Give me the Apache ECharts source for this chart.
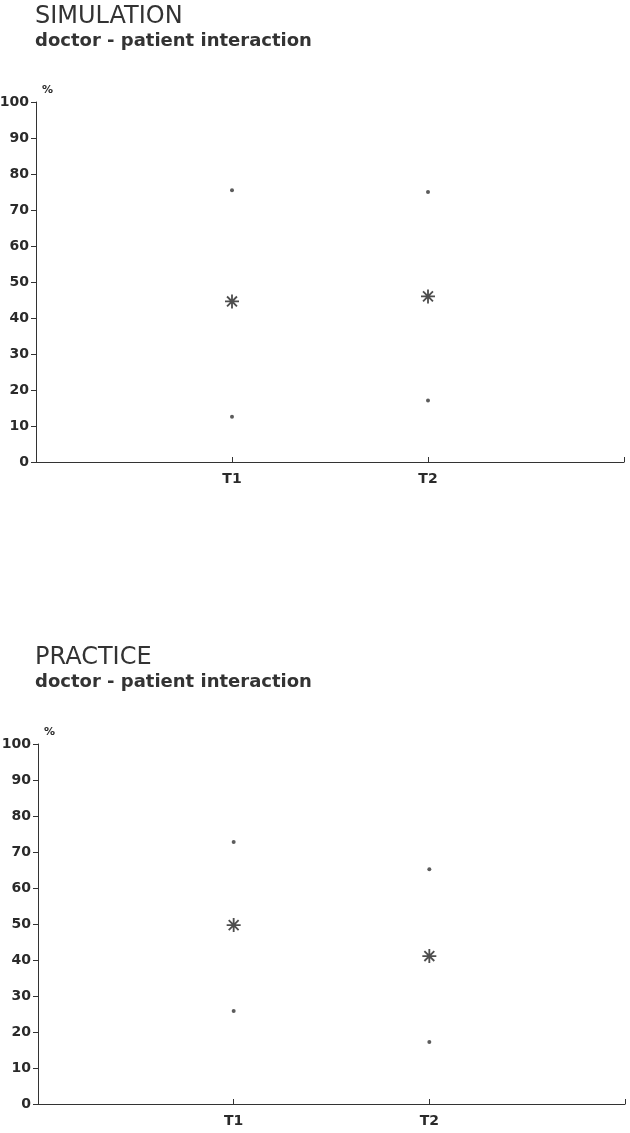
<!DOCTYPE html>
<html>
<head>
<meta charset="utf-8">
<script src="https://cdn.jsdelivr.net/npm/echarts@6/dist/echarts.min.js"></script>
<style>
  html, body { margin: 0; padding: 0; background: #fff; }
  #main { width: 630px; height: 1133px; }
</style>
</head>
<body>
<div id="main"></div>
<script>
// time points
var times = ['T1', 'T2'];

// SIMULATION: upper point, mean (asterisk), lower point
var simUpper = [75.5, 75.0];
var simMean = [44.6, 46.0];
var simLower = [12.6, 17.1];

// PRACTICE
var pracUpper = [72.8, 65.2];
var pracMean = [49.7, 41.1];
var pracLower = [25.8, 17.2];

var subTitle = 'doctor - patient interaction';

// asterisk made of four thin bars (all same winding so they don't cancel)
var starPath = 'path://M-10,-1.3L10,-1.3L10,1.3L-10,1.3Z' +
    'M-1.3,-10L1.3,-10L1.3,10L-1.3,10Z' +
    'M-6.15,-8.0L8.0,6.15L6.15,8.0L-8.0,-6.15Z' +
    'M-8.0,6.15L6.15,-8.0L8.0,-6.15L-6.15,8.0Z';

function pts(arr) {
    return arr.map(function (v, i) { return [i + 1, v]; });
}

var fontName = 'DejaVu Sans';

var labelFont = {
    color: '#2a2a2a',
    fontSize: 14,
    fontWeight: 'bold',
    fontFamily: fontName
};

function xAxisFor(idx) {
    return {
        type: 'value',
        gridIndex: idx,
        min: 0,
        max: 3,
        interval: 1,
        axisLine: { lineStyle: { color: '#333', width: 1.2 } },
        axisTick: { inside: true, length: 5, lineStyle: { color: '#333' } },
        axisLabel: Object.assign({
            margin: 10,
            formatter: function (v) { return times[v - 1] || ''; }
        }, labelFont),
        splitLine: { show: false }
    };
}

function yAxisFor(idx) {
    return {
        type: 'value',
        gridIndex: idx,
        min: 0,
        max: 100,
        interval: 10,
        name: '%',
        nameLocation: 'end',
        nameGap: 6,
        nameTextStyle: {
            color: '#2a2a2a', fontSize: 11, fontWeight: 'bold',
            fontFamily: fontName, align: 'left', padding: [0, 0, 0, 6]
        },
        axisLine: { show: true, lineStyle: { color: '#333', width: 1 } },
        axisTick: { show: true, length: 5, lineStyle: { color: '#333' } },
        axisLabel: Object.assign({ margin: 7 }, labelFont),
        splitLine: { show: false }
    };
}

function dots(idx, data) {
    return {
        type: 'scatter',
        xAxisIndex: idx,
        yAxisIndex: idx,
        symbol: 'circle',
        symbolSize: 4,
        itemStyle: { color: '#333' },
        data: pts(data)
    };
}

function stars(idx, data) {
    return {
        type: 'scatter',
        xAxisIndex: idx,
        yAxisIndex: idx,
        symbol: starPath,
        symbolSize: 14,
        itemStyle: { color: '#222' },
        data: pts(data)
    };
}

var titleStyle = {
    color: '#333', fontSize: 24, fontWeight: 'normal', fontFamily: fontName
};
var subStyle = {
    color: '#333', fontSize: 18, fontWeight: 'bold', fontFamily: fontName
};

var myChart = echarts.init(document.getElementById('main'));

var option = {
    backgroundColor: '#fff',
    animation: false,
    title: [{
        text: 'SIMULATION',
        subtext: subTitle,
        left: 30,
        top: 0,
        itemGap: 3,
        textStyle: titleStyle,
        subtextStyle: subStyle
    }, {
        text: 'PRACTICE',
        subtext: subTitle,
        left: 30,
        top: 641,
        itemGap: 3,
        textStyle: titleStyle,
        subtextStyle: subStyle
    }],
    grid: [
        { left: 36, top: 102, width: 588, height: 360, outerBoundsMode: 'none' },
        { left: 38, top: 744, width: 587, height: 360, outerBoundsMode: 'none' }
    ],
    xAxis: [xAxisFor(0), xAxisFor(1)],
    yAxis: [yAxisFor(0), yAxisFor(1)],
    series: [
        dots(0, simUpper),
        stars(0, simMean),
        dots(0, simLower),
        dots(1, pracUpper),
        stars(1, pracMean),
        dots(1, pracLower)
    ]
};

myChart.setOption(option);
</script>
</body>
</html>
